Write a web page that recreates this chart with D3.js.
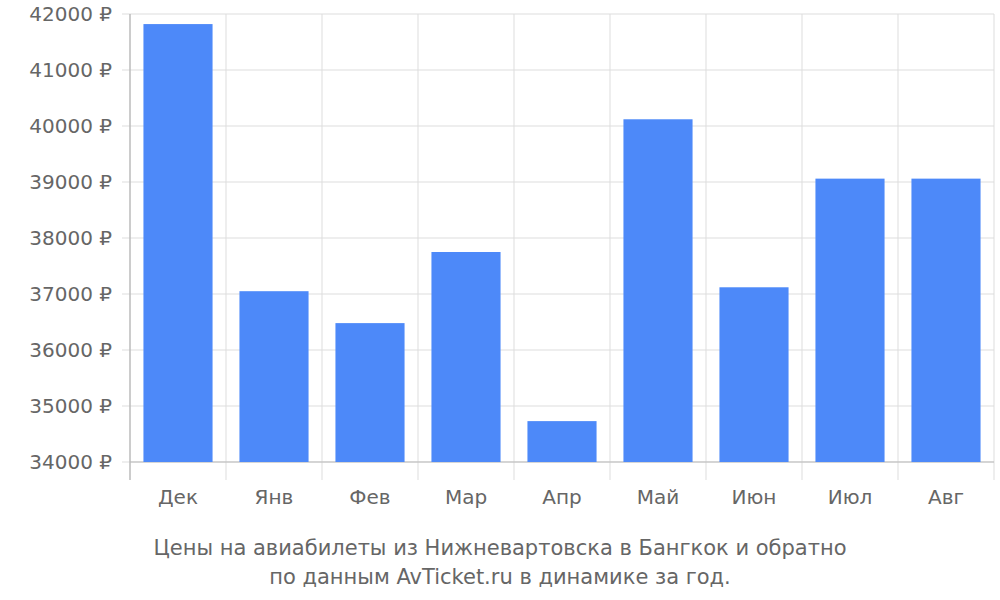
<!DOCTYPE html>
<html><head><meta charset="utf-8">
<script src="https://cdn.jsdelivr.net/npm/d3@7"></script>
<style>body{margin:0;background:#fff}text{font-family:"DejaVu Sans";fill:#666}</style>
</head><body><svg id="c" width="1000" height="600"></svg>
<script>
const categories=["Дек","Янв","Фев","Мар","Апр","Май","Июн","Июл","Авг"];
const values=[41820,37050,36480,37750,34730,40120,37120,39060,39060];
const yTicks=[34000,35000,36000,37000,38000,39000,40000,41000,42000];
const titleLines=["Цены на авиабилеты из Нижневартовска в Бангкок и обратно","по данным AvTicket.ru в динамике за год."];
const svg=d3.select("#c");
const L=130,R=994,T=14,B=462,AX=480;
const x=d3.scaleBand().domain(categories).range([L,R]).paddingInner(0.28).paddingOuter(0.14);
const y=d3.scaleLinear().domain([34000,42000]).range([B,T]);
const g=svg.append("g");
// horizontal grid
g.selectAll(".h").data(yTicks).enter().append("line").attr("x1",L-8).attr("x2",R).attr("y1",d=>y(d)).attr("y2",d=>y(d)).attr("stroke","#ddd");
// vertical grid
const step=x.step();
const bounds=d3.range(categories.length+1).map(i=>L+i*(R-L)/categories.length);
g.selectAll(".v").data(bounds).enter().append("line").attr("x1",d=>d).attr("x2",d=>d).attr("y1",T).attr("y2",AX).attr("stroke","#ddd");
g.append("line").attr("x1",L).attr("x2",L).attr("y1",T).attr("y2",AX).attr("stroke","#aaa");
g.append("line").attr("x1",L).attr("x2",R).attr("y1",B).attr("y2",B).attr("stroke","#bbb");
g.selectAll("rect").data(values).enter().append("rect").attr("x",(d,i)=>x(categories[i])).attr("width",x.bandwidth()).attr("y",d=>y(d)).attr("height",d=>B-y(d)).attr("fill","#4d89f9");
g.selectAll(".yl").data(yTicks).enter().append("text").attr("x",112).attr("y",d=>y(d)+7).attr("text-anchor","end").attr("font-size",20).text(d=>d+" ₽");
g.selectAll(".xl").data(categories).enter().append("text").attr("x",d=>x(d)+x.bandwidth()/2).attr("y",504).attr("text-anchor","middle").attr("font-size",20).text(d=>d);
g.selectAll(".t").data(titleLines).enter().append("text").attr("x",500).attr("y",(d,i)=>555+i*29).attr("text-anchor","middle").attr("font-size",21).text(d=>d);
</script></body></html>
